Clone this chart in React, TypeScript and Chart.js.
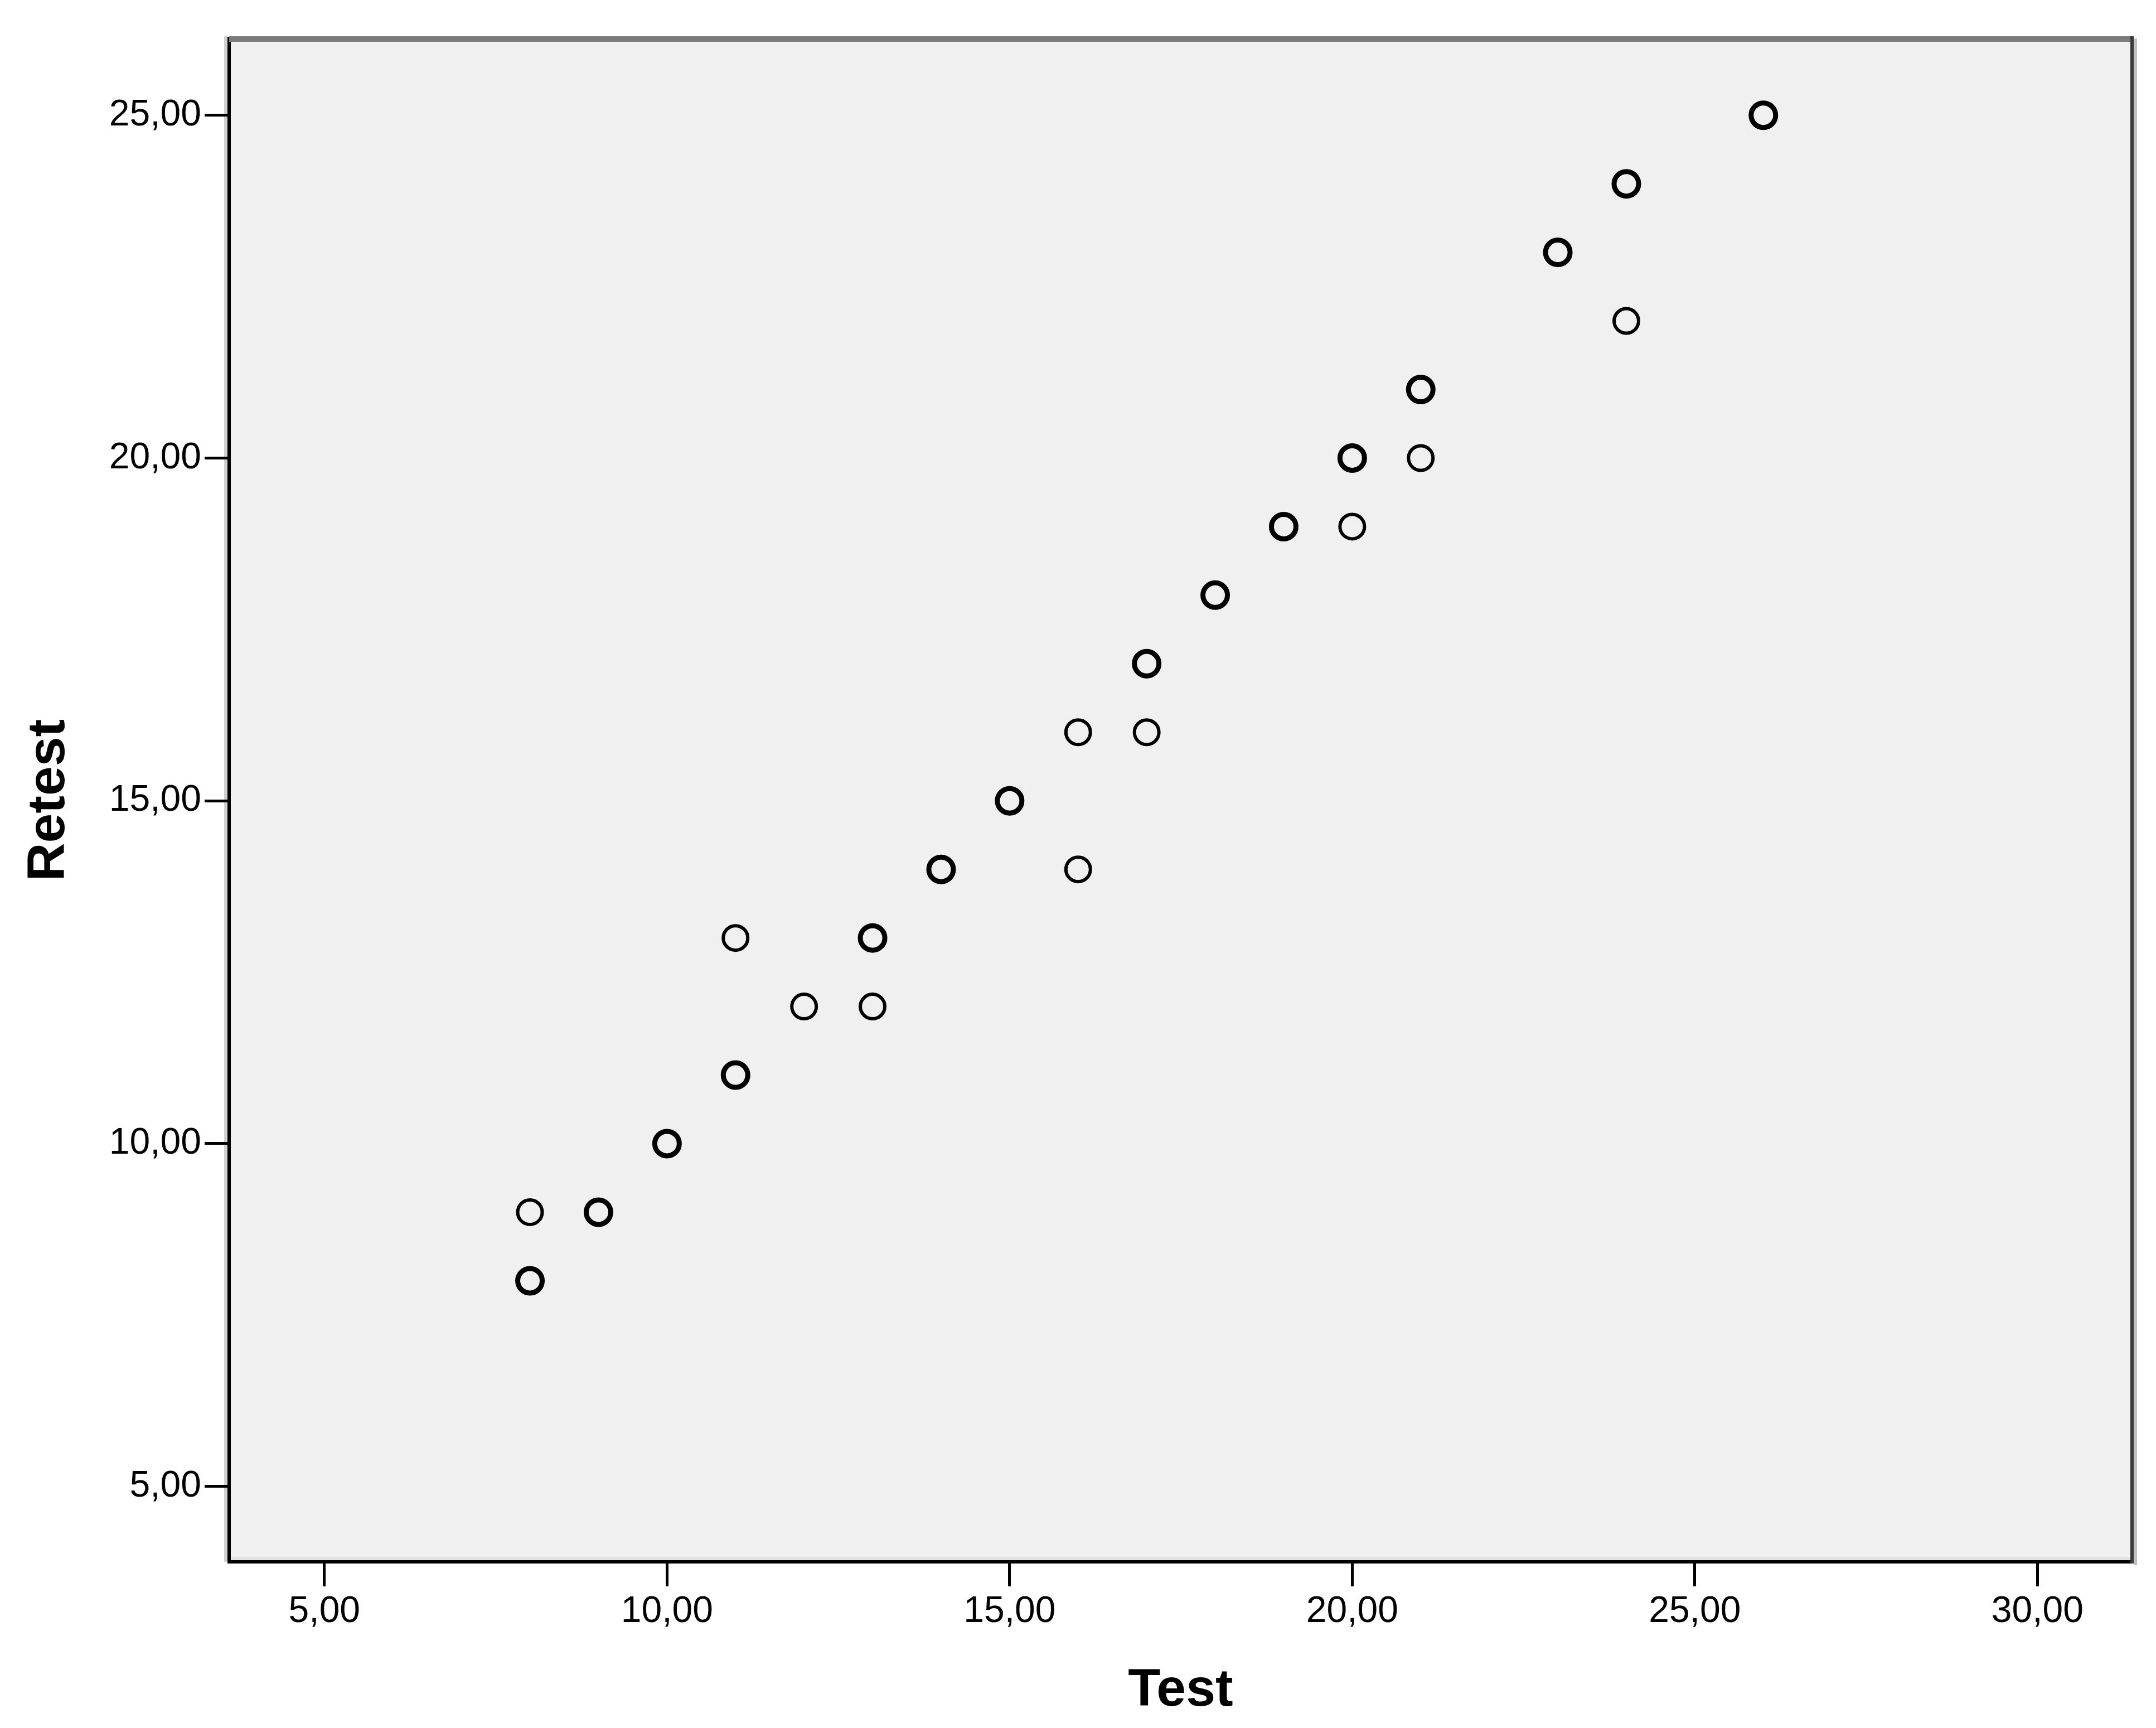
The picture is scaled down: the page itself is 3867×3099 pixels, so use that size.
import React, { useEffect, useRef } from "react";
import { Chart, registerables } from "chart.js";

Chart.register(...registerables);

// Cases that appear once (thin circles)
const testSingle = [8, 11, 12, 13, 16, 16, 17, 20, 21, 24];
const retestSingle = [9, 13, 12, 12, 16, 14, 16, 19, 20, 22];

// Cases that appear several times (overplotted, heavier circles)
const testRepeated = [8, 9, 10, 11, 13, 14, 15, 17, 18, 19, 20, 21, 23, 24, 26];
const retestRepeated = [8, 9, 10, 11, 13, 14, 15, 17, 18, 19, 20, 21, 23, 24, 25];

const xTickValues = [5, 10, 15, 20, 25, 30];
const yTickValues = [5, 10, 15, 20, 25];

const xTitle = "Test";
const yTitle = "Retest";

const FONT = "'Liberation Sans', Arial, sans-serif";
const W = 3867;
const H = 3099;

const fmt = (v: number) => v.toFixed(2).replace(".", ",");

const framePlugin = {
  id: "spssFrame",
  beforeDraw(chart: any) {
    const { ctx, chartArea } = chart;
    const { left, top, right, bottom } = chartArea;
    ctx.save();
    ctx.fillStyle = "#f0f0f0";
    ctx.fillRect(left, top, right - left, bottom - top);
    ctx.fillStyle = "#e3e3e3";
    ctx.fillRect(left, bottom - 9, right - left, 7);
    ctx.fillStyle = "#d0d0d0";
    ctx.fillRect(left - 9, top - 4, 6, bottom - top + 4);
    ctx.fillStyle = "#c0c0c0";
    ctx.fillRect(right + 3, top, 6, bottom - top + 6);
    ctx.restore();
  },
  afterDraw(chart: any) {
    const { ctx, chartArea } = chart;
    const { left, top, right, bottom } = chartArea;
    ctx.save();
    ctx.strokeStyle = "#7b7b7b";
    ctx.lineWidth = 10;
    ctx.beginPath();
    ctx.moveTo(left, top + 1);
    ctx.lineTo(right + 3, top + 1);
    ctx.stroke();
    ctx.strokeStyle = "#3a3a3a";
    ctx.lineWidth = 6;
    ctx.beginPath();
    ctx.moveTo(right, top - 4);
    ctx.lineTo(right, bottom + 3);
    ctx.stroke();
    ctx.restore();
  },
};

export default function App() {
  const ref = useRef<HTMLCanvasElement | null>(null);

  useEffect(() => {
    if (!ref.current) return;
    const chart = new Chart(ref.current, {
      type: "scatter",
      data: {
        datasets: [
          {
            label: "single",
            data: testSingle.map((x, i) => ({ x, y: retestSingle[i] })),
            pointRadius: 22,
            pointBorderWidth: 6,
            pointBorderColor: "#000",
            pointBackgroundColor: "rgba(0,0,0,0)",
            pointHoverRadius: 22,
          },
          {
            label: "repeated",
            data: testRepeated.map((x, i) => ({ x, y: retestRepeated[i] })),
            pointRadius: 22,
            pointBorderWidth: 9,
            pointBorderColor: "#000",
            pointBackgroundColor: "rgba(0,0,0,0)",
            pointHoverRadius: 22,
          },
        ],
      },
      options: {
        responsive: false,
        devicePixelRatio: 1,
        animation: false,
        layout: { padding: { left: 0, top: 69, right: 43, bottom: 0 } },
        plugins: {
          legend: { display: false },
          tooltip: { enabled: false },
        },
        scales: {
          x: {
            type: "linear",
            min: 3.61,
            max: 31.38,
            afterFit: (s: any) => {
              s.height = 298;
            },
            afterBuildTicks: (axis: any) => {
              axis.ticks = xTickValues.map((v) => ({ value: v }));
            },
            border: { display: true, color: "#000", width: 6 },
            grid: {
              drawOnChartArea: false,
              drawTicks: true,
              tickLength: 44,
              tickWidth: 5,
              tickColor: "#000",
              color: "#000",
            },
            ticks: {
              callback: (v: any) => fmt(Number(v)),
              font: { family: FONT, size: 66 },
              color: "#000",
              padding: 6,
              maxRotation: 0,
              autoSkip: false,
            },
            title: {
              display: true,
              text: xTitle,
              color: "#000",
              font: { family: FONT, size: 95, weight: "bold" },
              padding: { top: 0, bottom: 9 },
            },
          },
          y: {
            type: "linear",
            min: 3.9,
            max: 26.12,
            afterFit: (s: any) => {
              s.width = 411;
            },
            afterBuildTicks: (axis: any) => {
              axis.ticks = yTickValues.map((v) => ({ value: v }));
            },
            border: { display: true, color: "#000", width: 6 },
            grid: {
              drawOnChartArea: false,
              drawTicks: true,
              tickLength: 44,
              tickWidth: 5,
              tickColor: "#000",
              color: "#000",
            },
            ticks: {
              callback: (v: any) => fmt(Number(v)),
              font: { family: FONT, size: 66 },
              color: "#000",
              padding: 6,
              autoSkip: false,
            },
            title: {
              display: true,
              text: yTitle,
              color: "#000",
              font: { family: FONT, size: 95, weight: "bold" },
              padding: { top: 32, bottom: 0 },
            },
          },
        },
      },
      plugins: [framePlugin],
    } as any);
    return () => chart.destroy();
  }, []);

  return (
    <div
      style={{
        position: "fixed",
        left: 0,
        top: 0,
        width: W,
        height: H,
        background: "#fff",
      }}
    >
      <canvas ref={ref} width={W} height={H} style={{ display: "block" }} />
    </div>
  );
}
